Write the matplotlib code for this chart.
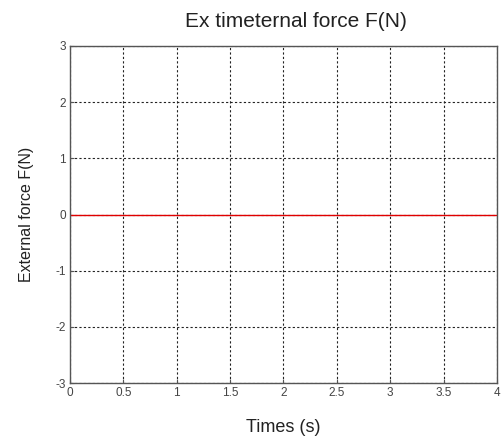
import matplotlib
matplotlib.use("Agg")
import matplotlib.pyplot as plt

times = [0, 4]
force = [0, 0]
xticks = [0, 0.5, 1, 1.5, 2, 2.5, 3, 3.5, 4]
xticklabels = ["0", "0.5", "1", "1.5", "2", "2.5", "3", "3.5", "4"]
yticks = [-3, -2, -1, 0, 1, 2, 3]
yticklabels = ["-3", "-2", "-1", "0", "1", "2", "3"]

plt.rcParams['font.family'] = ['Liberation Sans', 'DejaVu Sans']

fig = plt.figure(figsize=(5.02, 4.41), dpi=100)
ax = fig.add_axes([70/502, 1-383/441, (497-70)/502, (383-46)/441])
ax.plot(times, force, color='#e00000', lw=1.0)
ax.set_xlim(0, 4)
ax.set_ylim(-3, 3)
ax.set_xticks(xticks)
ax.set_xticklabels(xticklabels)
ax.set_yticks(yticks)
ax.set_yticklabels(yticklabels)
ax.tick_params(direction='in', length=3, labelsize=8.5, colors='#555555', labelcolor='#444444', pad=3)
ax.grid(True, linestyle=(0, (2, 2)), color='#222222', lw=0.8)
for s in ax.spines.values():
    s.set_color('#555555')
    s.set_linewidth(1.0)
ax.set_title("Ex timeternal force F(N)", fontsize=15, color='#222222', pad=14, x=0.53)
ax.set_xlabel("Times (s)", fontsize=13, color='#222222', labelpad=14)
ax.set_ylabel("External force F(N)", fontsize=11.5, color='#222222', labelpad=15)
fig.savefig("out.png", dpi=100)
